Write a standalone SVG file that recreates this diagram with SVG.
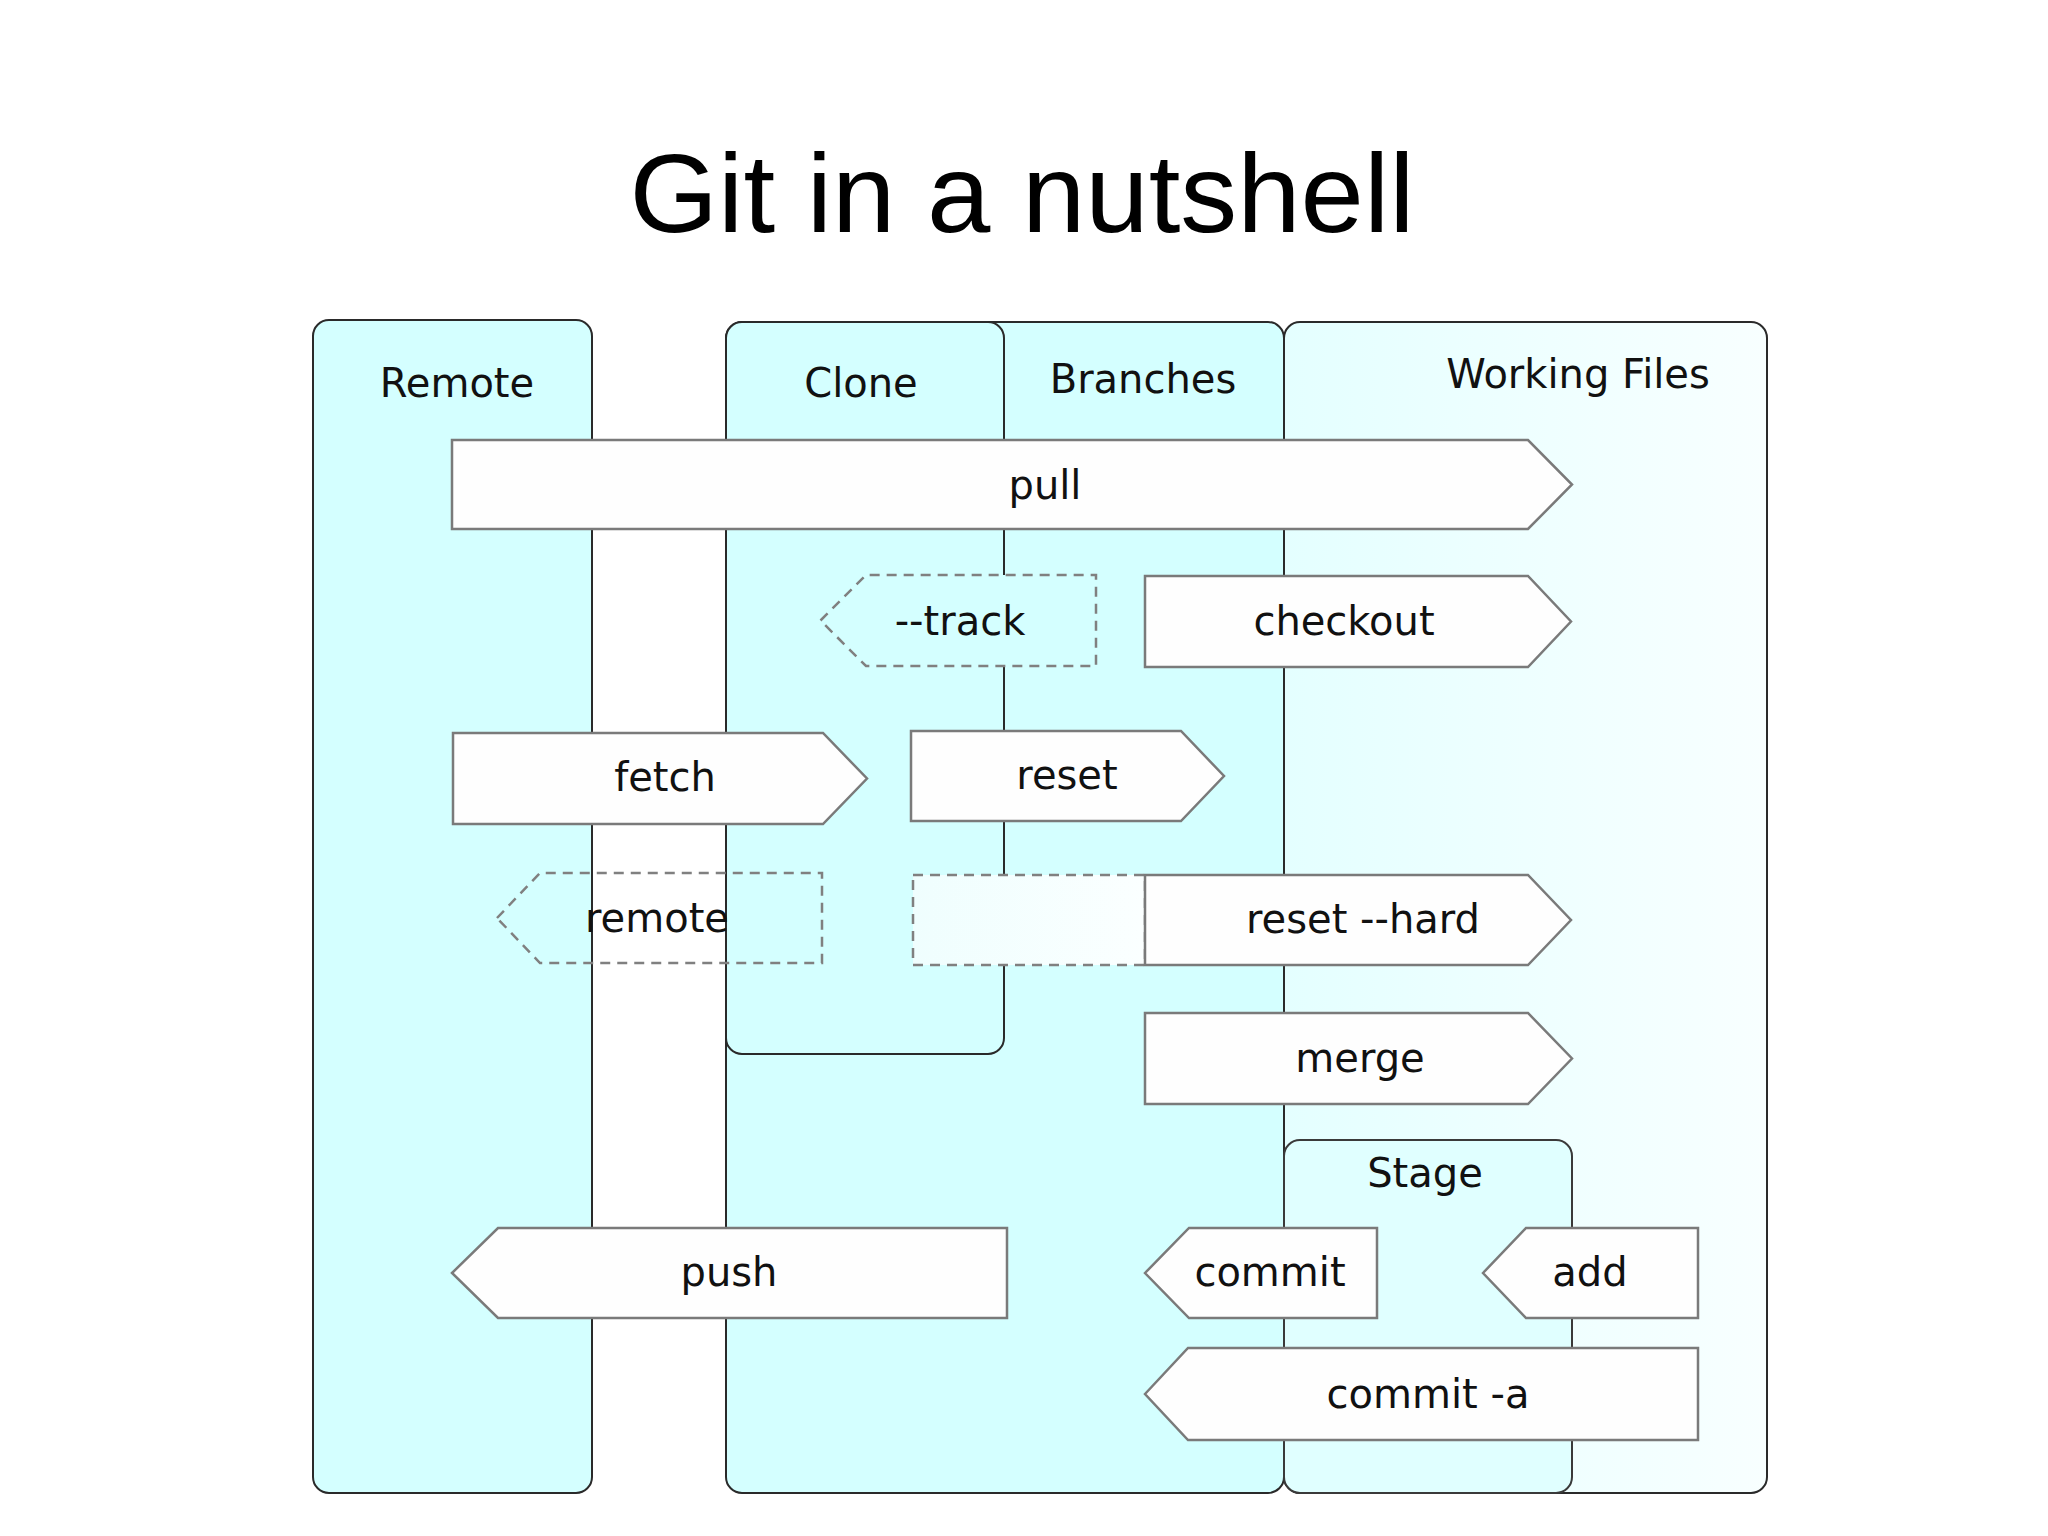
<svg xmlns="http://www.w3.org/2000/svg" width="2048" height="1536" viewBox="0 0 2048 1536">
<defs>
<linearGradient id="wfGrad" x1="0" y1="0" x2="1" y2="0">
<stop offset="0" stop-color="#e4ffff"/>
<stop offset="1" stop-color="#f8ffff"/>
</linearGradient>
<linearGradient id="dashGrad" x1="0" y1="0" x2="1" y2="0">
<stop offset="0" stop-color="#effefe"/>
<stop offset="1" stop-color="#fbffff"/>
</linearGradient>
</defs>
<style>
.lane{fill:#d4ffff;stroke:#2a2a2a;stroke-width:2}
.wf{fill:url(#wfGrad);stroke:#2a2a2a;stroke-width:2}
.stage{fill:#e0ffff;stroke:#3a3a3a;stroke-width:2}
.arr{fill:#fefefe;stroke:#7a7a7a;stroke-width:2.5;stroke-linejoin:miter}
.dash{stroke:#808080;stroke-width:2.5;stroke-dasharray:10,7}
.lbl{font-family:"DejaVu Sans",sans-serif;font-size:40px;fill:#111;text-anchor:middle}
.title{font-family:"Liberation Sans",Arial,sans-serif;font-size:112px;fill:#000;text-anchor:middle}
</style>
<rect x="0" y="0" width="2048" height="1536" fill="#ffffff"/>
<text class="title" x="1022" y="232" textLength="785" lengthAdjust="spacingAndGlyphs">Git in a nutshell</text>

<g id="lanes">
<g id="working-files">
<rect class="wf" x="1284" y="322" width="483" height="1171" rx="16" ry="16"/>
<text class="lbl" x="1578" y="388">Working Files</text>
</g>
<g id="remote-lane">
<rect class="lane" x="313" y="320" width="279" height="1173" rx="16" ry="16"/>
<text class="lbl" x="457" y="397">Remote</text>
</g>
<g id="branches">
<rect class="lane" x="726" y="322" width="558" height="1171" rx="16" ry="16"/>
<text class="lbl" x="1143" y="393">Branches</text>
</g>
<g id="clone">
<rect class="lane" x="726" y="322" width="278" height="732" rx="16" ry="16"/>
<text class="lbl" x="861" y="397">Clone</text>
</g>
<g id="stage">
<rect class="stage" x="1284" y="1140" width="288" height="353" rx="16" ry="16"/>
<text class="lbl" x="1425" y="1187">Stage</text>
</g>
</g>

<g id="connectors">
<g id="pull">
<path class="arr" d="M452,440 H1528 L1572,484.5 L1528,529 H452 Z"/>
<text class="lbl" x="1045" y="499">pull</text>
</g>
<g id="track">
<path class="dash" fill="#d4ffff" d="M820.5,620.5 L866,575 H1096 V666 H866 Z"/>
<text class="lbl" x="960" y="635">--track</text>
</g>
<g id="checkout">
<path class="arr" d="M1145,576 H1528 L1571,621.5 L1528,667 H1145 Z"/>
<text class="lbl" x="1344" y="635">checkout</text>
</g>
<g id="fetch">
<path class="arr" d="M453,733 H823 L867,778.5 L823,824 H453 Z"/>
<text class="lbl" x="665" y="791">fetch</text>
</g>
<g id="reset">
<path class="arr" d="M911,731 H1181 L1224,776 L1181,821 H911 Z"/>
<text class="lbl" x="1067" y="789">reset</text>
</g>
<g id="remote">
<path class="dash" fill="none" d="M497,918 L540,873 H822 V963 H540 Z"/>
<text class="lbl" x="657" y="932">remote</text>
</g>
<g id="reset-hard">
<rect class="dash" fill="url(#dashGrad)" x="913" y="875" width="232" height="90"/>
<path class="arr" d="M1145,875 H1528 L1571,920 L1528,965 H1145 Z"/>
<text class="lbl" x="1363" y="933">reset --hard</text>
</g>
<g id="merge">
<path class="arr" d="M1145,1013 H1528 L1572,1058.5 L1528,1104 H1145 Z"/>
<text class="lbl" x="1360" y="1072">merge</text>
</g>
<g id="push">
<path class="arr" d="M452,1273 L498,1228 H1007 V1318 H498 Z"/>
<text class="lbl" x="729" y="1286">push</text>
</g>
<g id="commit">
<path class="arr" d="M1145,1273 L1189,1228 H1377 V1318 H1189 Z"/>
<text class="lbl" x="1270" y="1286">commit</text>
</g>
<g id="add">
<path class="arr" d="M1483,1273 L1526,1228 H1698 V1318 H1526 Z"/>
<text class="lbl" x="1590" y="1286">add</text>
</g>
<g id="commit-a">
<path class="arr" d="M1145,1394 L1188,1348 H1698 V1440 H1188 Z"/>
<text class="lbl" x="1428" y="1408">commit -a</text>
</g>
</g>
</svg>
